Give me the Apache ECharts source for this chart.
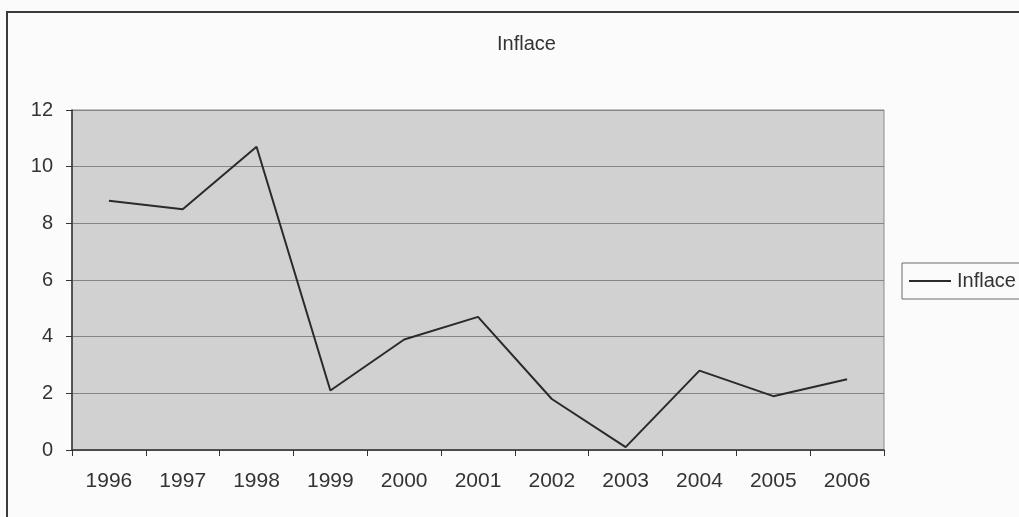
<!DOCTYPE html>
<html>
<head>
<meta charset="utf-8">
<title>Inflace</title>
<script src="https://cdn.jsdelivr.net/npm/echarts@6/dist/echarts.min.js"></script>
<style>
  html, body { margin: 0; padding: 0; background: #fbfbfb; }
  #chart { width: 1019px; height: 517px; }
</style>
</head>
<body>
<div id="chart"></div>
<script>
// Inflation by year (%)
const years = ['1996', '1997', '1998', '1999', '2000', '2001', '2002', '2003', '2004', '2005', '2006'];
const inflace = [8.8, 8.5, 10.7, 2.1, 3.9, 4.7, 1.8, 0.1, 2.8, 1.9, 2.5];
const seriesName = 'Inflace';

const FONT = '"Liberation Sans", Arial, sans-serif';
const chart = echarts.init(document.getElementById('chart'), null, { renderer: 'canvas' });

chart.setOption({
  backgroundColor: '#fbfbfb',
  animation: false,
  textStyle: { fontFamily: FONT },
  title: {
    text: seriesName,
    left: 497,
    top: 34,
    padding: 0,
    textStyle: { fontFamily: FONT, fontSize: 20, fontWeight: 'normal', color: '#333' }
  },
  legend: {
    left: 902,
    top: 263,
    padding: [8, 14, 8, 7],
    borderColor: '#6a6a6a',
    borderWidth: 1,
    itemWidth: 42,
    itemHeight: 2,
    itemGap: 6,
    data: [{ name: seriesName, icon: 'rect' }],
    textStyle: { fontFamily: FONT, fontSize: 20, color: '#333', padding: [0, 0, 0, 1] }
  },
  graphic: [{
    type: 'rect',
    silent: true,
    shape: { x: 7, y: 12, width: 1200, height: 700 },
    style: { fill: 'none', stroke: '#3a3a3a', lineWidth: 2 }
  }],
  grid: {
    left: 72,
    top: 110,
    right: 135,
    bottom: 67,
    show: true,
    backgroundColor: '#d1d1d1',
    borderColor: '#8a8a8a',
    borderWidth: 1
  },
  xAxis: {
    type: 'category',
    data: years,
    boundaryGap: true,
    axisLine: { show: true, lineStyle: { color: '#333', width: 1.5 } },
    axisTick: { show: true, length: 6, lineStyle: { color: '#333' } },
    axisLabel: { fontFamily: FONT, fontSize: 21, color: '#333', margin: 21 },
    splitLine: { show: false }
  },
  yAxis: {
    type: 'value',
    min: 0,
    max: 12,
    interval: 2,
    axisLine: { show: true, lineStyle: { color: '#333', width: 1.5 } },
    axisTick: { show: true, length: 6, lineStyle: { color: '#333' } },
    axisLabel: { fontFamily: FONT, fontSize: 20, color: '#333', margin: 19 },
    splitLine: { show: true, lineStyle: { color: '#858585', width: 1 } }
  },
  series: [{
    name: seriesName,
    type: 'line',
    data: inflace,
    symbol: 'none',
    color: '#2a2a2a',
    lineStyle: { color: '#2a2a2a', width: 2 }
  }]
});
</script>
</body>
</html>
